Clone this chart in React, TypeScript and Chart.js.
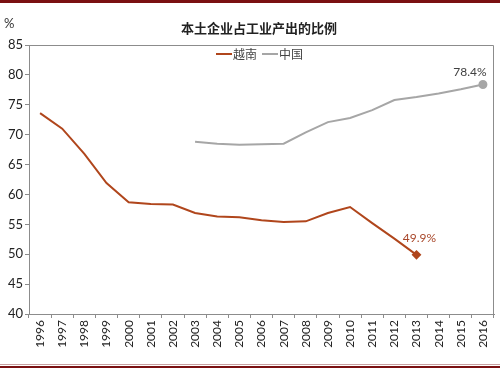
import React, { useEffect, useRef } from "react";
import { Chart, registerables } from "chart.js";

Chart.register(...registerables);

const years = ["1996","1997","1998","1999","2000","2001","2002","2003","2004","2005","2006","2007","2008","2009","2010","2011","2012","2013","2014","2015","2016"];
const vietnam = [73.6, 71.0, 66.8, 61.9, 58.7, 58.4, 58.3, 56.9, 56.3, 56.2, 55.7, 55.4, 55.5, 56.9, 57.9, 55.2, 52.6, 49.9, null, null, null];
const china = [null, null, null, null, null, null, null, 68.8, 68.5, 68.3, 68.4, 68.5, 70.4, 72.1, 72.8, 74.1, 75.8, 76.3, 76.9, 77.6, 78.4];
const yTicks = [40, 45, 50, 55, 60, 65, 70, 75, 80, 85];
const seriesNames = ["越南", "中国"];
const titleText = "本土企业占工业产出的比例";
const unitText = "%";

const VN_COLOR = "#B0461C";
const CN_COLOR = "#A6A6A6";

function lastIndex(arr: (number | null)[]) {
  let idx = -1;
  arr.forEach((v, i) => { if (v !== null) idx = i; });
  return idx;
}

export default function App() {
  const ref = useRef<HTMLCanvasElement | null>(null);
  useEffect(() => {
    const canvas = ref.current;
    if (!canvas) return;
    const vnLast = lastIndex(vietnam);
    const cnLast = lastIndex(china);
    const radii = (arr: (number | null)[], li: number) => arr.map((_, i) => (i === li ? 3.5 : 0));

    const decor = {
      id: "decor",
      afterDraw(chart: any) {
        const ctx = chart.ctx;
        const ca = chart.chartArea;
        ctx.save();
        // border top/right
        ctx.strokeStyle = "#8C8C8C";
        ctx.lineWidth = 1;
        ctx.beginPath();
        ctx.moveTo(ca.left, ca.top + 0.5);
        ctx.lineTo(ca.right - 0.5, ca.top + 0.5);
        ctx.lineTo(ca.right - 0.5, ca.bottom);
        ctx.stroke();
        // title
        ctx.fillStyle = "#222";
        ctx.font = "bold 13px 'Noto Sans CJK SC'";
        ctx.textAlign = "center";
        ctx.textBaseline = "middle";
        ctx.fillText(titleText, 259, 28);
        // unit
        ctx.font = "13px Lato";
        ctx.textAlign = "left";
        ctx.fillStyle = "#333";
        ctx.fillText(unitText, 4, 24);
        // legend
        const items = [
          { name: seriesNames[0], color: VN_COLOR, x: 216 },
          { name: seriesNames[1], color: CN_COLOR, x: 262 },
        ];
        ctx.font = "12px 'Noto Sans CJK SC'";
        items.forEach((it) => {
          ctx.strokeStyle = it.color;
          ctx.lineWidth = 2;
          ctx.beginPath();
          ctx.moveTo(it.x, 54);
          ctx.lineTo(it.x + 16, 54);
          ctx.stroke();
          ctx.fillStyle = "#444";
          ctx.textAlign = "left";
          ctx.fillText(it.name, it.x + 17, 54);
        });
        // data labels
        ctx.font = "12px Lato";
        ctx.textAlign = "center";
        const m0 = chart.getDatasetMeta(0).data[vnLast];
        const m1 = chart.getDatasetMeta(1).data[cnLast];
        ctx.fillStyle = "#A8472A";
        ctx.fillText(vietnam[vnLast]!.toFixed(1) + "%", m0.x + 3, m0.y - 17);
        ctx.fillStyle = "#404040";
        ctx.fillText(china[cnLast]!.toFixed(1) + "%", m1.x - 13, m1.y - 12);
        ctx.restore();
      },
    };

    const chart = new Chart(canvas, {
      type: "line",
      data: {
        labels: years,
        datasets: [
          {
            label: seriesNames[0],
            data: vietnam,
            borderColor: VN_COLOR,
            backgroundColor: VN_COLOR,
            borderWidth: 2,
            pointRadius: radii(vietnam, vnLast),
            pointStyle: "rectRot",
            tension: 0,
            spanGaps: false,
          },
          {
            label: seriesNames[1],
            data: china,
            borderColor: CN_COLOR,
            backgroundColor: CN_COLOR,
            borderWidth: 2,
            pointRadius: radii(china, cnLast),
            pointStyle: "circle",
            tension: 0,
            spanGaps: false,
          },
        ],
      },
      options: {
        responsive: false,
        animation: false,
        layout: { padding: { top: 45, right: 3, left: 0, bottom: 0 } },
        plugins: { legend: { display: false }, title: { display: false }, tooltip: { enabled: false } },
        scales: {
          x: {
            offset: true,
            grid: { offset: true, drawOnChartArea: false, drawTicks: true, tickLength: 4, color: "#8C8C8C" },
            border: { color: "#8C8C8C" },
            ticks: {
              minRotation: 90,
              maxRotation: 90,
              autoSkip: false,
              padding: 2,
              color: "#222",
              font: { family: "Lato", size: 12 },
            },
            afterFit: (s: any) => { s.height = 55; },
          },
          y: {
            min: 40,
            max: 85,
            afterBuildTicks: (s: any) => { s.ticks = yTicks.map((v) => ({ value: v })); },
            grid: { drawOnChartArea: false, drawTicks: true, tickLength: 4, color: "#8C8C8C" },
            border: { color: "#8C8C8C" },
            ticks: {
              padding: 2,
              color: "#222",
              font: { family: "Lato", size: 13 },
            },
            afterFit: (s: any) => { s.width = 29; },
          },
        },
      },
      plugins: [decor],
    });
    return () => chart.destroy();
  }, []);

  return (
    <div style={{ position: "absolute", left: 0, top: 0, width: 500, height: 369, background: "#fff" }}>
      <div style={{ position: "absolute", left: 0, top: 0, width: 500, height: 3, background: "#7A1012" }} />
      <canvas ref={ref} width={500} height={369} style={{ position: "absolute", left: 0, top: 0, width: 500, height: 369 }} />
      <div style={{ position: "absolute", left: 0, top: 364, width: 500, height: 1, background: "#C9A0A0" }} />
      <div style={{ position: "absolute", left: 0, top: 366, width: 500, height: 2, background: "#7A1012" }} />
    </div>
  );
}
